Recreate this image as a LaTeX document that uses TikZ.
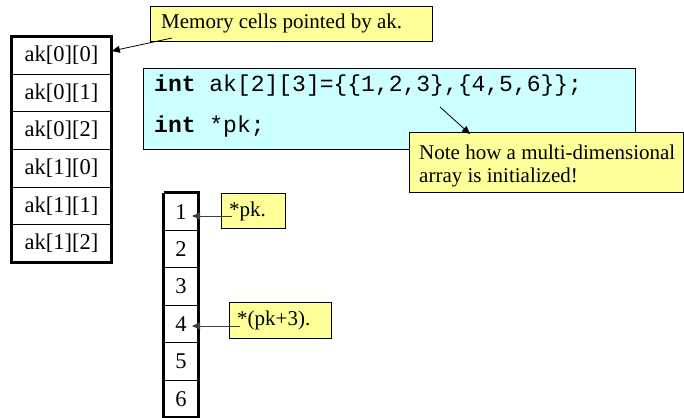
\documentclass[tikz,border=0pt]{standalone}
\usepackage{fontspec}
\setmainfont{Liberation Serif}
\newfontfamily\codefont{Liberation Mono}
\usetikzlibrary{arrows.meta}
\definecolor{noteyellow}{HTML}{FFFF99}
\definecolor{codecyan}{HTML}{CCFFFF}
\definecolor{lineg}{HTML}{404040}
\tikzset{
  cell/.style={draw=black, line width=0.7pt, minimum width=100pt, minimum height=37.6pt, inner sep=0pt, font=\fontsize{22.5}{26}\selectfont},
  numcell/.style={draw=black, line width=0.7pt, minimum width=34pt, minimum height=37.4pt, inner sep=0pt, font=\fontsize{22.5}{26}\selectfont},
  frame/.style={draw=black, line width=2.8pt},
  callout/.style={draw=black, line width=0.6pt, fill=noteyellow, inner sep=0pt, font=\fontsize{21}{25}\selectfont},
  calltext/.style={inner sep=0pt, font=\fontsize{21}{25}\selectfont, align=left, anchor=west},
  ptr/.style={draw=black, line width=0.8pt, -{Triangle[length=8pt,width=7pt]}},
  gptr/.style={draw=lineg, line width=0.9pt, -{Triangle[length=8pt,width=7pt]}},
  codebox/.style={draw=black, line width=0.6pt, fill=codecyan, inner sep=0pt},
  code/.style={font=\codefont\fontsize{23}{26}\selectfont, inner sep=0pt, anchor=west}
}
\begin{document}
\begin{tikzpicture}[x=1pt,y=-1pt]
\useasboundingbox (0,0) rectangle (684,417);
% left array
\foreach \i/\t in {0/ak[0][0],1/ak[0][1],2/ak[0][2],3/ak[1][0],4/ak[1][1],5/ak[1][2]}{
  \node[cell] (a\i) at (61.5, 55.3+37.6*\i) {\t};
}
\draw[frame] (a0.north west) rectangle (a5.south east);
% memory callout
\node[callout, minimum width=282pt, minimum height=35pt] (mem) at (291,23.5) {};
\node[calltext] (memt) at (161,23.5) {Memory cells pointed by ak.};
\coordinate (memstart) at (172,38);
\draw[ptr] (memstart) -- (a0.east |- 0,51);
% code box
\node[codebox, minimum width=492pt, minimum height=81pt] (codeb) at (389,108.5) {};
\node[code] (l1) at (154,86) {\textbf{int} ak[2][3]=\{\{1,2,3\},\{4,5,6\}\};};
\node[code] (l2) at (154,127) {\textbf{int} *pk;};
% note
\node[callout, minimum width=274pt, minimum height=60pt, anchor=north west] (note) at (409,132) {};
\node[calltext] (notet1) at (419,152) {Note how a multi-dimensional};
\node[calltext] (notet2) at (419,177) {array is initialized!};
\coordinate (notestart) at (440,107);
\draw[ptr] (notestart) -- (470,134);
% second array
\foreach \i in {1,...,6}{
  \node[numcell] (n\i) at (181, 211.7+37.4*\i-37.4) {\i};
}
\draw[frame] (n1.north west) -- (n6.south west) (n1.south west |- n1.north) -- (n1.north east) -- (n6.south east);
\draw[frame] (n6.south west) -- (n6.south east);
% pk callouts
\node[callout, minimum width=64pt, minimum height=35pt] (pk) at (253,211) {};
\node[calltext] (pkt) at (229,211) {*pk.};
\node[callout, minimum width=102pt, minimum height=36pt] (pk3) at (280,320) {};
\node[calltext] (pk3t) at (237,320) {*(pk+3).};
\coordinate (pks) at (232,216);
\coordinate (pk3s) at (240,326);
\draw[gptr] (pks) -- (192,216);
\draw[gptr] (pk3s) -- (192,326);
\end{tikzpicture}
\end{document}
